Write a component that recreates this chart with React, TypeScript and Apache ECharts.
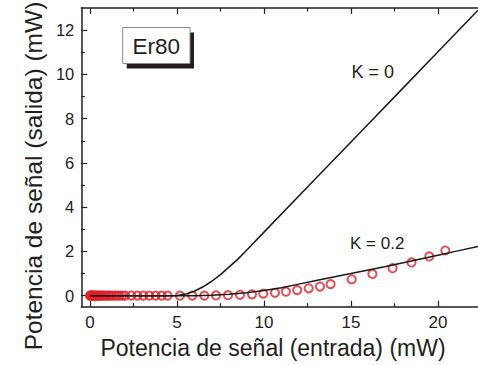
import React, { useEffect, useRef } from 'react';
import * as echarts from 'echarts';

const xLabelTicks = [0, 5, 10, 15, 20];
const xMinorTicks = [2.5, 7.5, 12.5, 17.5];
const yLabelTicks = [0, 2, 4, 6, 8, 10, 12];
const yMinorTicks = [1, 3, 5, 7, 9, 11];

const k0X = [0, 4.5, 5.0, 5.5, 6.0, 6.5, 7.0, 7.5, 8.0, 8.5, 9.0, 10, 12, 14, 16, 18, 20, 22.3];
const k0Y = [0, 0, 0.01, 0.07, 0.2, 0.4, 0.65, 0.95, 1.3, 1.65, 2.05, 2.87, 4.5, 6.13, 7.76, 9.39, 11.02, 12.9];

const k02X = [0, 6, 7, 8, 9, 10, 11, 12, 13, 14, 15, 16, 17, 18, 19, 20, 21, 22.3];
const k02Y = [0, 0, 0.02, 0.06, 0.13, 0.23, 0.36, 0.52, 0.68, 0.84, 1.0, 1.16, 1.32, 1.49, 1.66, 1.83, 2.0, 2.22];

const measX = [
  0, 0.03, 0.06, 0.09, 0.12, 0.16, 0.2, 0.24, 0.29, 0.34, 0.4, 0.46, 0.53, 0.6, 0.68, 0.77,
  0.87, 0.98, 1.1, 1.23, 1.37, 1.52, 1.68, 1.85, 2.02, 2.37, 2.72, 3.06, 3.41, 3.77, 4.12,
  4.46, 5.17, 5.88, 6.57, 7.24, 7.93, 8.62, 9.31, 9.96, 10.63, 11.26, 11.91, 12.57, 13.22,
  13.83, 15.04, 16.23, 17.39, 18.48, 19.5, 20.42,
];
const measY = [
  0, 0, 0, 0, 0, 0, 0, 0, 0, 0, 0, 0, 0, 0, 0, 0,
  0, 0, 0, 0, 0, 0, 0, 0, 0, 0, 0, 0, 0, 0, 0,
  0, 0, 0, 0, 0.01, 0.02, 0.04, 0.06, 0.09, 0.13, 0.18, 0.25, 0.33, 0.41,
  0.52, 0.74, 0.98, 1.24, 1.5, 1.77, 2.04,
];

const FONT = '"Liberation Sans", Arial, Helvetica, sans-serif';
const INK = '#231f20';

const X_MIN = -0.5;
const X_MAX = 22.3;
const Y_MIN = -0.5;
const Y_MAX = 13;

function xAxisCfg(position: 'top' | 'bottom', ticks: number[], len: number, showLine: boolean, showLabel: boolean) {
  return {
    type: 'value',
    gridIndex: 0,
    position,
    min: X_MIN,
    max: X_MAX,
    splitLine: { show: false },
    axisLine: { show: showLine, onZero: false, lineStyle: { color: INK, width: 1.5 } },
    axisTick: { show: true, inside: true, length: len, customValues: ticks, lineStyle: { color: INK, width: 1.2 } },
    axisLabel: {
      show: showLabel,
      customValues: ticks,
      color: INK,
      fontFamily: FONT,
      fontSize: 17,
      margin: 7,
    },
  };
}

function yAxisCfg(ticks: number[], len: number, showLine: boolean, showLabel: boolean) {
  return {
    type: 'value',
    gridIndex: 0,
    position: 'left',
    min: Y_MIN,
    max: Y_MAX,
    splitLine: { show: false },
    axisLine: { show: showLine, onZero: false, lineStyle: { color: INK, width: 1.5 } },
    axisTick: { show: true, inside: true, length: len, customValues: ticks, lineStyle: { color: INK, width: 1.2 } },
    axisLabel: {
      show: showLabel,
      customValues: ticks,
      color: INK,
      fontFamily: FONT,
      fontSize: 16.5,
      margin: 7,
    },
  };
}

export default function App() {
  const ref = useRef<HTMLDivElement>(null);
  useEffect(() => {
    if (!ref.current) return;
    const chart = echarts.init(ref.current, null, { renderer: 'svg' });
    const option = {
      animation: false,
      backgroundColor: '#ffffff',
      grid: { left: 81.3, right: 0, top: 8, bottom: 58.3, containLabel: false },
      xAxis: [
        xAxisCfg('bottom', xLabelTicks, 6, true, true),
        xAxisCfg('bottom', xMinorTicks, 3.5, false, false),
        xAxisCfg('top', xLabelTicks, 6, true, false),
        xAxisCfg('top', xMinorTicks, 3.5, false, false),
      ],
      yAxis: [
        yAxisCfg(yLabelTicks, 6, true, true),
        yAxisCfg(yMinorTicks, 3.5, false, false),
      ],
      series: [
        {
          type: 'scatter',
          xAxisIndex: 0,
          yAxisIndex: 0,
          symbol: 'circle',
          symbolSize: 8.2,
          itemStyle: { color: 'rgba(0,0,0,0)', borderColor: '#e41e26', borderWidth: 1.9 },
          data: measX.map((x, i) => [x, measY[i]]),
          z: 2,
        },
        {
          type: 'line',
          xAxisIndex: 0,
          yAxisIndex: 0,
          showSymbol: false,
          symbol: 'none',
          lineStyle: { color: '#1a1a1a', width: 1.5 },
          data: k0X.map((x, i) => [x, k0Y[i]]),
          z: 3,
        },
        {
          type: 'line',
          xAxisIndex: 0,
          yAxisIndex: 0,
          showSymbol: false,
          symbol: 'none',
          lineStyle: { color: '#1a1a1a', width: 1.5 },
          data: k02X.map((x, i) => [x, k02Y[i]]),
          z: 3,
        },
      ],
      graphic: [
        { type: 'rect', shape: { x: 126.7, y: 32.5, width: 67.3, height: 36 }, style: { fill: INK }, z: 10 },
        { type: 'rect', shape: { x: 122.7, y: 27.5, width: 67.3, height: 36 }, style: { fill: '#ffffff', stroke: '#8a8a8a', lineWidth: 1 }, z: 11 },
        { type: 'text', x: 156.3, y: 46, style: { text: 'Er80', font: `22.5px ${FONT}`, fill: INK, align: 'center', verticalAlign: 'middle' }, z: 12 },
        { type: 'text', x: 351.5, y: 71.5, style: { text: 'K = 0', font: `18px ${FONT}`, fill: INK, align: 'left', verticalAlign: 'middle' }, z: 12 },
        { type: 'text', x: 350, y: 243.5, style: { text: 'K = 0.2', font: `17px ${FONT}`, fill: INK, align: 'left', verticalAlign: 'middle' }, z: 12 },
        { type: 'text', x: 273, y: 348, style: { text: 'Potencia de señal (entrada) (mW)', font: `23px ${FONT}`, fill: INK, align: 'center', verticalAlign: 'middle' }, z: 12 },
        { type: 'text', x: 33, y: 176, rotation: Math.PI / 2, style: { text: 'Potencia de señal (salida) (mW)', font: `24.5px ${FONT}`, fill: INK, align: 'center', verticalAlign: 'middle' }, z: 12 },
      ],
    };
    chart.setOption(option as any);
    return () => chart.dispose();
  }, []);
  return <div ref={ref} style={{ position: 'fixed', left: 0, top: 0, width: 478, height: 365, background: '#fff' }} />;
}
